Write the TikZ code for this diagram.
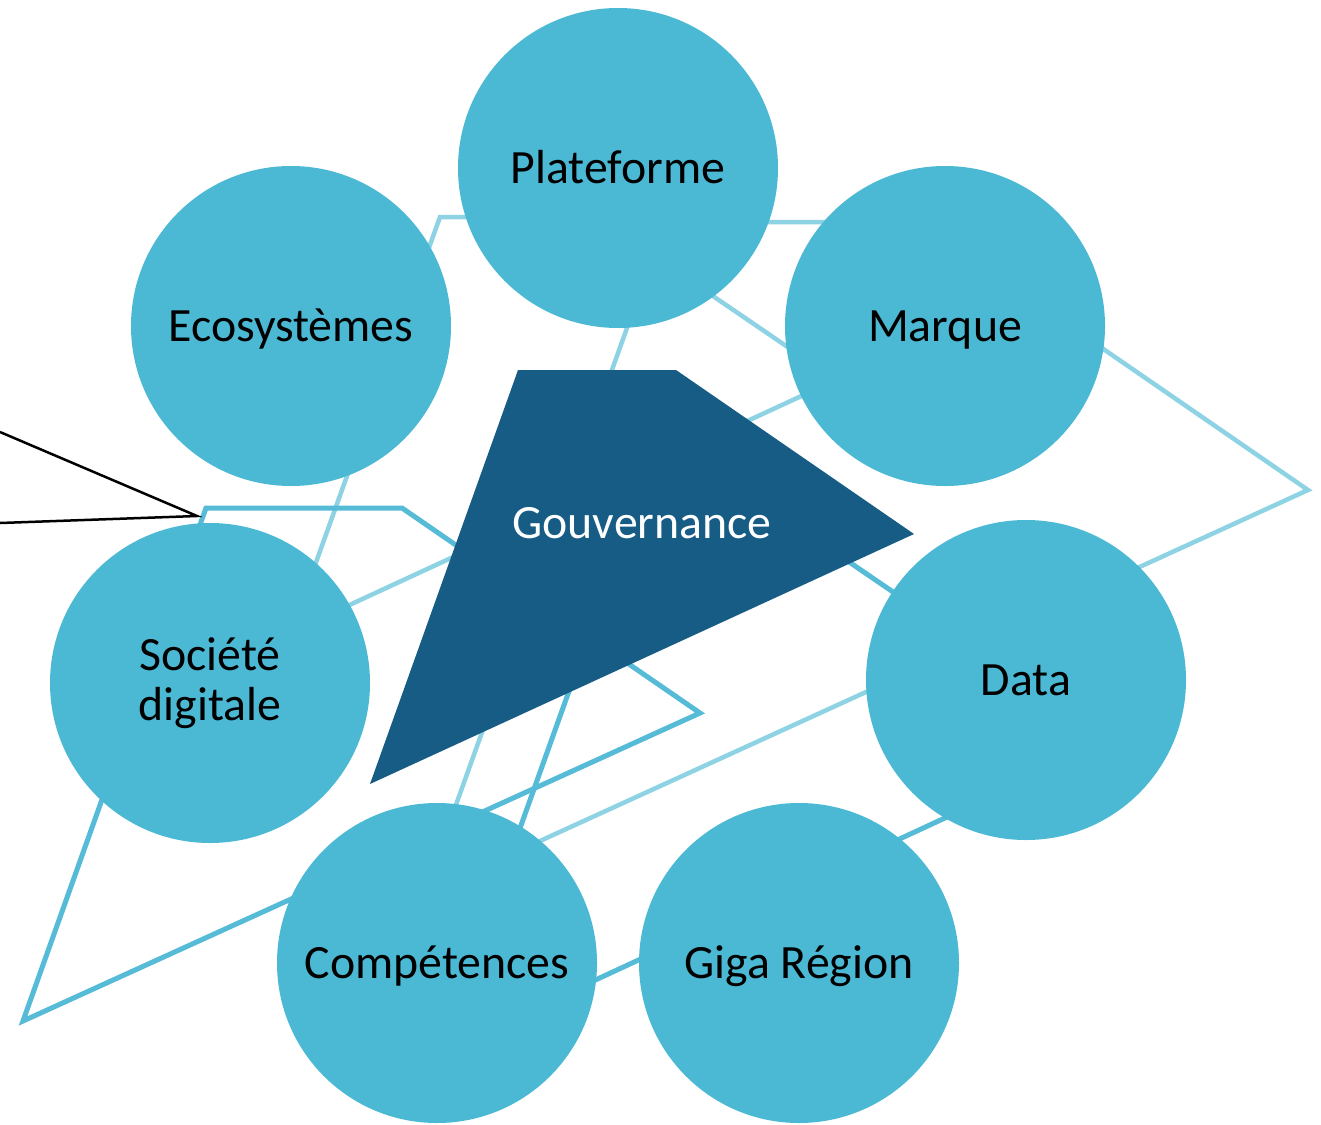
\documentclass[tikz,border=0pt]{standalone}
\usepackage{fontspec}
\setmainfont{Carlito}
\definecolor{bubbleblue}{HTML}{4BB8D4}
\definecolor{lightblue}{HTML}{8ED3E4}
\definecolor{midblue}{HTML}{55BBD7}
\definecolor{govblue}{HTML}{165C85}
\begin{document}
\begin{tikzpicture}[x=1pt,y=-1pt,
  lightline/.style={draw=lightblue, line width=4.5pt, line join=miter},
  midline/.style={draw=midblue, line width=5pt, line join=miter},
  bubble/.style={circle, fill=bubbleblue, minimum size=320pt, inner sep=0pt,
    font=\fontsize{47.8}{50}\selectfont, align=center, text=black,
    text height=32pt, text depth=2pt},
  govtext/.style={font=\fontsize{47.8}{50}\selectfont, text=white, inner sep=0pt,
    text height=32pt, text depth=2pt},
  callout/.style={draw=black, line width=2.5pt, line join=miter}]
\useasboundingbox (0,0) rectangle (1321,1124);

% light polygon A (large)
\coordinate (laTL) at (665,222);
\coordinate (laTR) at (919,222);
\coordinate (laR)  at (1308,490);
\coordinate (laBL) at (424,894);
\draw[lightline] (laTL) -- (laTR) -- (laR) -- (laBL) -- cycle;

% light polygon B (small)
\coordinate (lbTL) at (440,217);
\coordinate (lbTR) at (597,217);
\coordinate (lbR)  at (836,380);
\coordinate (lbBL) at (291,632);
\draw[lightline] (lbTL) -- (lbTR) -- (lbR) -- (lbBL) -- cycle;

% medium polygon M
\coordinate (mTL) at (206,508);
\coordinate (mTR) at (402,508);
\coordinate (mR)  at (700,713);
\coordinate (mBL) at (23,1021);
\draw[midline] (mTL) -- (mTR) -- (mR) -- (mBL) -- cycle;

% medium polygon N
\coordinate (nTL) at (623,540);
\coordinate (nTR) at (817,540);
\coordinate (nR)  at (1111,741);
\coordinate (nBL) at (440,1052);
\draw[midline] (nTL) -- (nTR) -- (nR) -- (nBL) -- cycle;

% black callout
\coordinate (c1) at (0,432);
\coordinate (c2) at (197,516);
\coordinate (c3) at (0,523);
\draw[callout] (c1) -- (c2) -- (c3);

% Gouvernance
\coordinate (gTL) at (518,370);
\coordinate (gTR) at (676,370);
\coordinate (gR)  at (914,534);
\coordinate (gBL) at (370,784);
\fill[govblue] (gTL) -- (gTR) -- (gR) -- (gBL) -- cycle;
\node[govtext] (gouv) at (642,523) {Gouvernance};

% circles
\node[bubble] (plat) at (618,168) {Plateforme};
\node[bubble] (eco)  at (291,326) {Ecosystèmes};
\node[bubble] (marq) at (945,326) {Marque};
\node[bubble, text height=, text depth=] (soc) at (210,683) {Société\\digitale};
\node[bubble] (data) at (1026,680) {Data};
\node[bubble] (comp) at (437,963) {Compétences};
\node[bubble] (giga) at (799,963) {Giga Région};
\end{tikzpicture}
\end{document}
